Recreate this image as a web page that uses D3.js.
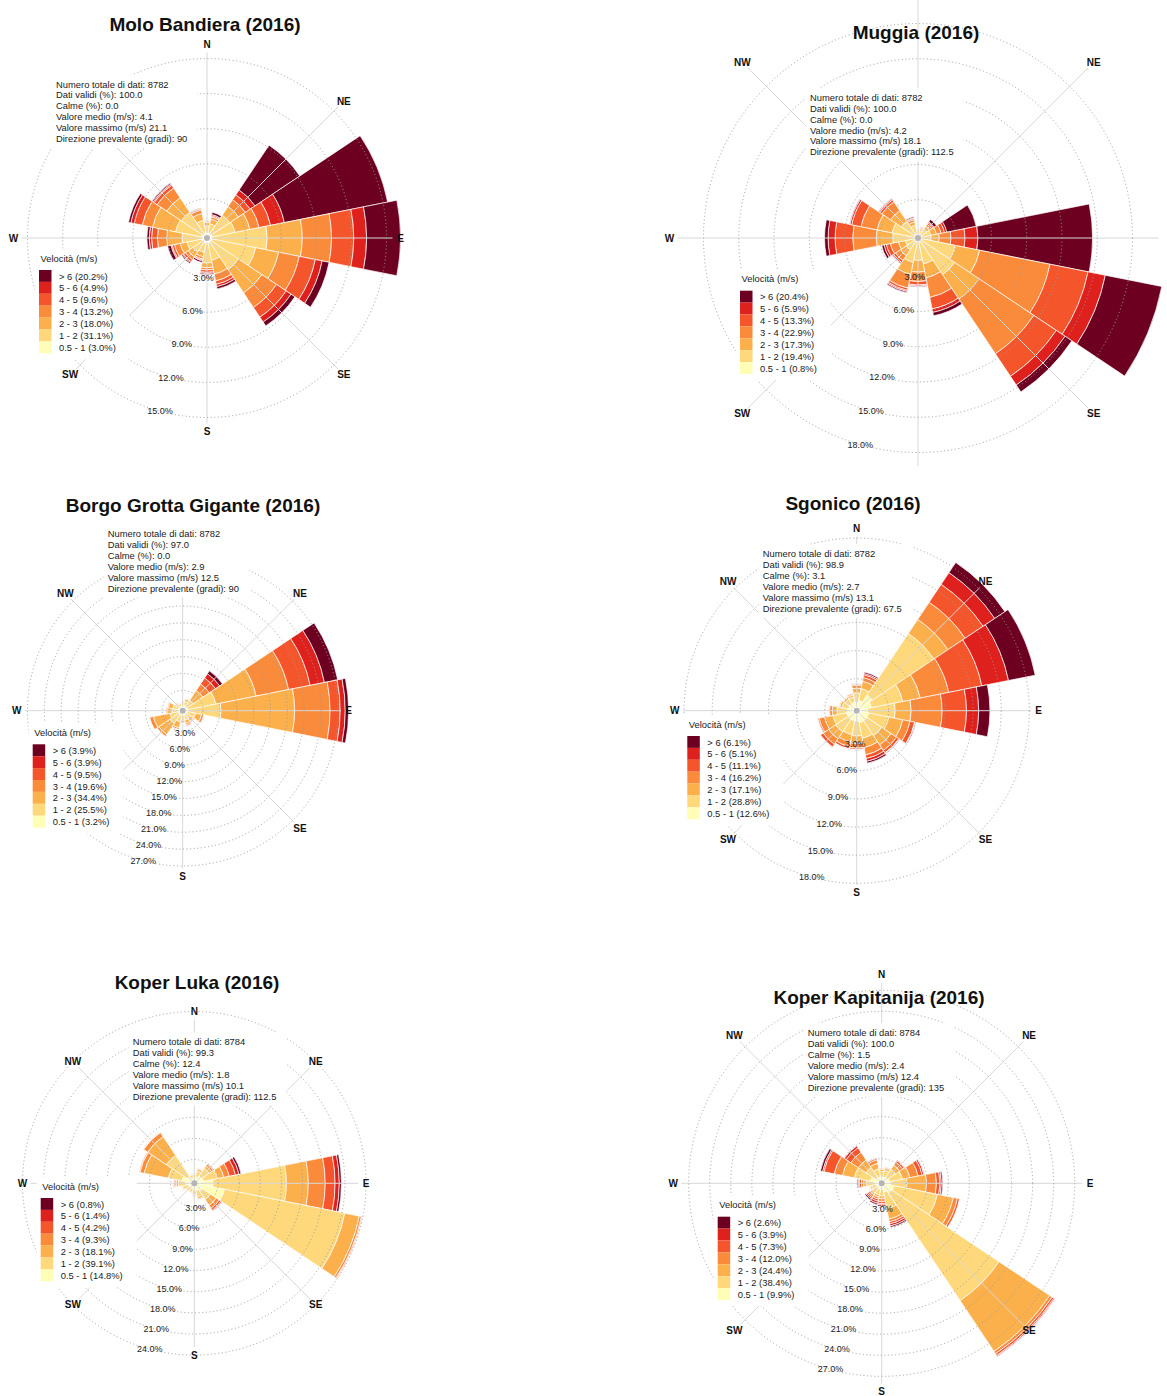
<!DOCTYPE html>
<html><head><meta charset="utf-8">
<script src="https://cdn.jsdelivr.net/npm/d3@7"></script>
<style>
body{margin:0;background:#fff}
svg{display:block}
text{font-family:"Liberation Sans",Arial,sans-serif}
</style>
</head><body>
<svg id="chart" width="1167" height="1396"></svg>
<script>
// ---------- data ----------
const directions = ["N","NNE","NE","ENE","E","ESE","SE","SSE","S","SSW","SW","WSW","W","WNW","NW","NNW"];
const compassLabels = ["N","NE","E","SE","S","SW","W","NW"];
const speedBins = ["0.5 - 1","1 - 2","2 - 3","3 - 4","4 - 5","5 - 6","> 6"];
const binColors = ["#fffdb6","#fed87a","#fbb04c","#f98b3b","#f4552b","#df211d","#6d0021"];

const stations = ["Molo Bandiera (2016)","Muggia (2016)","Borgo Grotta Gigante (2016)","Sgonico (2016)","Koper Luka (2016)","Koper Kapitanija (2016)"];
const statTotal = ["8782","8782","8782","8782","8784","8784"];
const statValid = ["100.0","100.0","97.0","98.9","99.3","100.0"];
const statCalm  = ["0.0","0.0","0.0","3.1","12.4","1.5"];
const statMean  = ["4.1","4.2","2.9","2.7","1.8","2.4"];
const statMax   = ["21.1","18.1","12.5","13.1","10.1","12.4"];
const statDir   = ["90","112.5","90","67.5","112.5","135"];
// legend shares per speed bin (0.5-1 ... >6)
const binShares = [
  [3.0,31.1,18.0,13.2,9.6,4.9,20.2],
  [0.8,19.4,17.3,22.9,13.3,5.9,20.4],
  [3.2,25.5,34.4,19.6,9.5,3.9,3.9],
  [12.6,28.8,17.1,16.2,11.1,5.1,6.1],
  [14.8,39.1,18.1,9.3,4.2,1.4,0.8],
  [9.9,38.4,24.4,12.0,7.3,3.9,2.6]
];

// frequency (%) per direction (N, NNE, ... NNW) and speed bin (0.5-1 ... >6)
const moloBandiera = [
  [0.1,0.6,0.3,0.1,0.05,0.02,0.03],
  [0.1,0.8,0.4,0.2,0.1,0.1,0.2],
  [0.1,1.9,0.9,0.7,0.5,0.5,4.6],
  [0.1,2.0,1.3,0.8,1.0,1.2,9.0],
  [0.1,4.7,3.0,2.5,1.9,1.1,2.9],
  [0.1,3.8,2.0,1.8,1.4,0.6,0.6],
  [0.1,2.8,2.4,1.5,1.0,0.5,0.4],
  [0.1,1.5,1.2,0.6,0.3,0.2,0.2],
  [0.1,1.7,0.4,0.2,0.2,0.1,0.1],
  [0.1,0.8,0.4,0.2,0.1,0.05,0.15],
  [0.1,1.0,0.5,0.3,0.2,0.1,0.1],
  [0.1,1.3,0.6,0.5,0.2,0.1,0.3],
  [0.1,1.7,1.3,0.8,0.5,0.2,0.2],
  [0.1,2.3,2.0,0.9,0.7,0.3,0.2],
  [0.1,2.2,1.5,1.0,0.3,0.1,0.1],
  [0.1,1.1,0.6,0.3,0.1,0.05,0.05]
];
const muggia = [
  [0.05,0.3,0.1,0.05,0.03,0.02,0.02],
  [0.05,0.35,0.15,0.1,0.05,0.02,0.03],
  [0.05,0.6,0.3,0.2,0.15,0.1,0.25],
  [0.05,0.8,0.5,0.4,0.3,0.2,2.55],
  [0.05,0.8,0.7,1.0,1.2,1.1,9.75],
  [0.05,2.95,2.1,6.1,3.3,1.5,4.9],
  [0.05,3.45,2.5,5.6,2.3,0.9,0.7],
  [0.05,1.95,1.2,1.7,1.0,0.3,0.3],
  [0.05,1.6,1.0,0.8,0.3,0.1,0.05],
  [0.05,1.8,1.05,1.2,0.2,0.1,0.1],
  [0.05,0.9,0.6,0.5,0.2,0.1,0.05],
  [0.05,0.8,0.6,0.7,0.35,0.2,0.2],
  [0.05,1.85,1.4,2.0,1.5,0.6,0.3],
  [0.05,1.95,1.3,1.4,0.8,0.15,0.05],
  [0.05,1.4,1.1,0.9,0.2,0.1,0.05],
  [0.05,0.8,0.3,0.2,0.1,0.07,0.08]
];
const borgoGrottaGigante = [
  [0.2,0.6,0.3,0.05,0.03,0.01,0.01],
  [0.3,0.8,0.4,0.1,0.05,0.03,0.02],
  [0.3,1.3,2.1,1.4,1.3,0.9,0.6],
  [0.3,5.1,7.3,5.9,3.9,2.6,2.4],
  [0.4,5.8,13.1,6.3,1.8,0.9,0.6],
  [0.2,1.5,1.1,0.4,0.15,0.03,0.02],
  [0.2,0.9,0.5,0.2,0.15,0.03,0.02],
  [0.2,0.9,0.6,0.3,0.2,0.05,0.05],
  [0.2,0.9,0.4,0.15,0.03,0.01,0.01],
  [0.2,1.2,1.1,0.3,0.08,0.01,0.01],
  [0.2,1.9,2.4,0.4,0.08,0.01,0.01],
  [0.2,1.5,3.0,0.7,0.08,0.01,0.01],
  [0.2,1.1,0.9,0.2,0.05,0.03,0.02],
  [0.2,1.0,0.8,0.2,0.05,0.03,0.02],
  [0.2,0.6,0.3,0.05,0.03,0.01,0.01],
  [0.2,0.5,0.15,0.03,0.01,0.005,0.005]
];
const sgonico = [
  [0.5,1.0,0.5,0.3,0.15,0.03,0.02],
  [0.7,1.3,0.8,0.4,0.3,0.15,0.15],
  [1.6,7.9,1.8,2.2,2.3,1.5,1.3],
  [1.2,3.4,1.9,3.1,3.6,2.9,2.9],
  [0.8,2.9,1.7,3.3,2.6,1.3,1.2],
  [0.9,2.2,1.5,0.8,0.5,0.05,0.05],
  [0.9,1.9,1.2,0.7,0.3,0.05,0.05],
  [0.9,1.7,1.0,0.8,0.4,0.3,0.2],
  [0.7,1.6,0.8,0.5,0.15,0.03,0.02],
  [0.7,1.5,0.8,0.5,0.25,0.03,0.02],
  [0.7,1.6,0.9,0.7,0.35,0.03,0.02],
  [0.7,1.5,0.9,0.6,0.15,0.03,0.02],
  [0.6,1.1,0.5,0.3,0.1,0.01,0.01],
  [0.5,0.7,0.25,0.1,0.03,0.01,0.01],
  [0.5,0.6,0.2,0.08,0.02,0,0],
  [0.5,0.6,0.2,0.1,0.1,0,0]
];
const koperLuka = [
  [0.35,0.55,0.1,0.05,0,0,0],
  [0.55,0.85,0.3,0.1,0,0,0],
  [0.85,1.35,0.4,0.3,0.1,0,0],
  [1.0,2.0,0.9,0.8,0.9,0.5,0.3],
  [2.3,10.4,3.1,2.4,1.4,0.6,0.3],
  [4.0,17.4,2.1,0.3,0.15,0.03,0.02],
  [1.0,1.4,1.0,0.5,0.3,0.15,0.05],
  [0.7,0.9,0.3,0.1,0,0,0],
  [0.55,0.75,0.15,0.05,0,0,0],
  [0.4,0.55,0.1,0,0,0,0],
  [0.4,0.55,0.1,0,0,0,0],
  [0.55,0.75,0.15,0.05,0,0,0],
  [0.85,1.05,0.3,0.2,0.15,0.05,0],
  [1.4,2.0,3.5,0.6,0.1,0,0],
  [0.85,3.55,3.2,0.7,0.05,0.01,0.01],
  [0.35,0.55,0.1,0.05,0,0,0]
];
const koperKapitanija = [
  [0.35,0.85,0.3,0.1,0,0,0],
  [0.4,1.0,0.3,0.15,0.05,0,0],
  [0.5,1.4,0.7,0.5,0.3,0.1,0],
  [0.6,1.9,1.1,1.2,0.6,0.25,0.05],
  [0.7,2.4,2.8,1.4,0.5,0.2,0.2],
  [1.3,6.3,2.3,0.6,0.3,0,0],
  [1.2,18.4,8.7,0.4,0.3,0.15,0.05],
  [0.8,2.4,1.5,0.4,0.3,0.3,0.2],
  [0.4,0.9,0.4,0.4,0.3,0.2,0.2],
  [0.4,0.8,0.3,0.3,0.3,0.3,0.2],
  [0.4,0.8,0.3,0.3,0.2,0.2,0.2],
  [0.3,0.7,0.2,0.1,0.05,0.03,0.02],
  [0.5,1.2,0.4,0.3,0.3,0.15,0.15],
  [1.1,2.4,1.7,1.2,1.5,0.2,0.3],
  [0.5,1.7,1.3,1.3,0.8,0.3,0],
  [0.4,1.2,0.8,0.5,0.2,0.05,0.05]
];
const frequencies = [moloBandiera, muggia, borgoGrottaGigante, sgonico, koperLuka, koperKapitanija];

// ---------- layout (positions only) ----------
const layout = [
  {cx:207,   cy:238,    k:11.7,  hole:4,   tx:205, ty:24,  sx:56,    sy:84,    lx:39,    ly:270},
  {cx:918,   cy:238,    k:11.75, hole:3,   tx:916, ty:32,  sx:810,   sy:97.3,  lx:740,   ly:290.7, clip:[583,0,584,466]},
  {cx:182.7, cy:710.7,  k:5.62,  hole:3.5, tx:193, ty:505, sx:107.7, sy:533.7, lx:32.7,  ly:744.3},
  {cx:856.7, cy:710.7,  k:9.38,  hole:3.8, tx:853, ty:503, sx:762.7, sy:553.7, lx:687.3, ly:736},
  {cx:194.3, cy:1183.3, k:7.05,  hole:2.6, tx:197, ty:982, sx:132.7, sy:1041.7,lx:40.7,  ly:1198},
  {cx:881.7, cy:1183.3, k:7.02,  hole:3.5, tx:879, ty:997, sx:807.7, sy:1032.7,lx:717.7, ly:1216.7}
];

const svg = d3.select("#chart");
const defs = svg.append("defs");
const rad = Math.PI / 180;
const fmt1 = d3.format(".1f");

stations.forEach((name, si) => {
  const L = layout[si];
  const freq = frequencies[si];
  let root = svg.append("g");
  if (L.clip) {
    defs.append("clipPath").attr("id", "clip" + si).append("rect")
      .attr("x", L.clip[0]).attr("y", L.clip[1]).attr("width", L.clip[2]).attr("height", L.clip[3]);
    root.attr("clip-path", "url(#clip" + si + ")");
  }
  const g = root.append("g").attr("transform", `translate(${L.cx},${L.cy})`);

  // stacked segments
  const segs = [];
  freq.forEach((vals, di) => {
    let acc = 0;
    vals.forEach((v, bi) => {
      if (v > 0) segs.push({dir: di, bin: bi, y0: acc, y1: acc + v});
      acc += v;
    });
  });
  const totals = freq.map(v => d3.sum(v));
  const maxTotal = d3.max(totals);
  const r = d3.scaleLinear().domain([0, maxTotal]).range([L.hole, L.hole + L.k * maxTotal]);
  const angle = d3.scaleLinear().domain([0, directions.length]).range([0, 360]);
  const half = 180 / directions.length;

  const arc = d3.arc()
    .innerRadius(d => r(d.y0))
    .outerRadius(d => r(d.y1))
    .startAngle(d => (angle(d.dir) - half) * rad)
    .endAngle(d => (angle(d.dir) + half) * rad);

  g.selectAll("path.seg").data(segs).join("path")
    .attr("class", "seg")
    .attr("d", arc)
    .attr("fill", d => binColors[d.bin])
    .attr("stroke", "#fff")
    .attr("stroke-width", 0.7);

  // grid: spokes
  const rMax = r(maxTotal);
  const spokes = d3.range(8).map(i => i * 45);
  g.selectAll("line.spoke").data(spokes).join("line")
    .attr("class", "spoke")
    .attr("x1", d => Math.sin(d * rad) * L.hole)
    .attr("y1", d => -Math.cos(d * rad) * L.hole)
    .attr("x2", d => Math.sin(d * rad) * (rMax - 8))
    .attr("y2", d => -Math.cos(d * rad) * (rMax - 8))
    .attr("stroke", "#d8d8d8").attr("stroke-width", 1);

  // grid: rings
  const rings = d3.range(3, maxTotal + 1e-6, 3);
  g.selectAll("circle.ring").data(rings).join("circle")
    .attr("class", "ring")
    .attr("r", d => r(d))
    .attr("fill", "none")
    .attr("stroke", "#9c9c9c")
    .attr("stroke-width", 1)
    .attr("stroke-dasharray", "1 2.6");

  g.append("circle").attr("r", 3).attr("fill", "#b5b5b5");

  // stats box
  const statLines = [
    "Numero totale di dati: " + statTotal[si],
    "Dati validi (%): " + statValid[si],
    "Calme (%): " + statCalm[si],
    "Valore medio (m/s): " + statMean[si],
    "Valore massimo (m/s) " + statMax[si],
    "Direzione prevalente (gradi): " + statDir[si]
  ];
  const sBox = root.append("rect").attr("fill", "#fff");
  const sTxt = root.append("g");
  statLines.forEach((t, i) => {
    sTxt.append("text").attr("x", L.sx).attr("y", L.sy + i * 10.9)
      .attr("dominant-baseline", "central")
      .attr("font-size", 9.4).attr("fill", "#1a1a1a").text(t);
  });
  const sb = sTxt.node().getBBox();
  const box1 = {x: sb.x - 4, y: sb.y - 4, w: sb.width + 14, h: sb.height + 8};
  sBox.attr("x", box1.x).attr("y", box1.y).attr("width", box1.w).attr("height", box1.h);

  // legend
  const lBox = root.append("rect").attr("fill", "#fff");
  const lg = root.append("g");
  lg.append("text").attr("x", L.lx + 1.5).attr("y", L.ly - 12)
    .attr("dominant-baseline", "central").attr("font-size", 9.4).attr("fill", "#1a1a1a")
    .text("Velocità (m/s)");
  const order = d3.range(speedBins.length).reverse();
  order.forEach((bi, i) => {
    lg.append("rect").attr("x", L.lx).attr("y", L.ly + i * 11.9)
      .attr("width", 12.5).attr("height", 11.9).attr("fill", binColors[bi]);
    lg.append("text").attr("x", L.lx + 20).attr("y", L.ly + i * 11.9 + 6)
      .attr("dominant-baseline", "central").attr("font-size", 9.4).attr("fill", "#1a1a1a")
      .text(`${speedBins[bi]} (${fmt1(binShares[si][bi])}%)`);
  });
  const lb = lg.node().getBBox();
  const box2 = {x: lb.x - 4, y: lb.y - 4, w: lb.width + 18, h: lb.height + 10};
  lBox.attr("x", box2.x).attr("y", box2.y).attr("width", box2.w).attr("height", box2.h);

  // compass labels (those covered by the info boxes or outside the panel are not shown)
  const inBox = (b, x, y) => x > b.x - 6 && x < b.x + b.w + 6 && y > b.y - 5 && y < b.y + b.h + 5;
  const visible = (x, y) => {
    if (L.clip && !(x > L.clip[0] + 4 && x < L.clip[0] + L.clip[2] - 4 && y > L.clip[1] + 4 && y < L.clip[1] + L.clip[3] - 4)) return false;
    return !inBox(box1, x, y) && !inBox(box2, x, y);
  };
  const cl = compassLabels.map((d, i) => ({t: d, x: Math.sin(i * 45 * rad) * rMax, y: -Math.cos(i * 45 * rad) * rMax}))
    .filter(d => visible(L.cx + d.x, L.cy + d.y));
  g.selectAll("text.cl").data(cl).join("text")
    .attr("class", "cl")
    .attr("x", d => d.x).attr("y", d => d.y)
    .attr("text-anchor", "middle").attr("dominant-baseline", "central")
    .attr("font-size", 10).attr("font-weight", "bold").attr("fill", "#111")
    .text(d => d.t);

  // ring labels
  const lblBearing = 198 * rad;
  g.selectAll("text.rl").data(rings).join("text")
    .attr("class", "rl")
    .attr("x", d => Math.sin(lblBearing) * r(d) + 8.5)
    .attr("y", d => -Math.cos(lblBearing) * r(d) + 2.5)
    .attr("text-anchor", "middle").attr("dominant-baseline", "central")
    .attr("font-size", 9).attr("fill", "#222")
    .text(d => fmt1(d) + "%");

  // title
  root.append("text").attr("x", L.tx).attr("y", L.ty)
    .attr("text-anchor", "middle").attr("dominant-baseline", "central")
    .attr("font-size", 19).attr("font-weight", "bold").attr("fill", "#111")
    .text(name);
});
</script>
</body></html>
